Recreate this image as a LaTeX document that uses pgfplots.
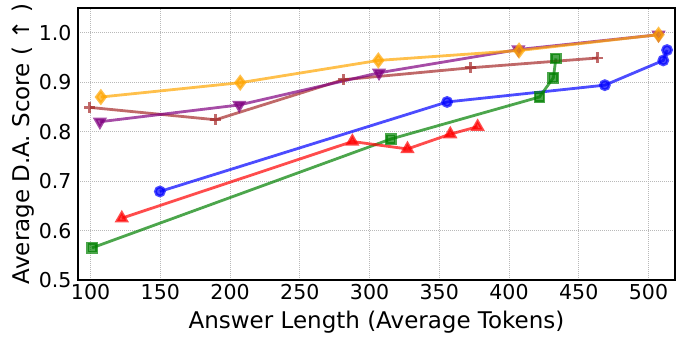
\documentclass[border=0pt]{standalone}
\usepackage{pgfplots}
\pgfplotsset{compat=1.18}
\usepackage{fontspec}
\setmainfont{DejaVu Sans}

\pgfplotsset{
  series/.style={line width=2.8pt, opacity=0.7, mark options={solid}},
}

\begin{document}
\begin{tikzpicture}
\path[use as bounding box] (0,0) rectangle (685pt,343pt);
\begin{axis}[
  at={(78pt,63pt)}, anchor=south west,
  scale only axis, width=597pt, height=272pt,
  xmin=91, xmax=519, ymin=0.5, ymax=1.05,
  xtick={100,150,...,500},
  ytick={0.5,0.6,...,1.0},
  yticklabel style={/pgf/number format/fixed, /pgf/number format/precision=1, /pgf/number format/fixed zerofill},
  /pgf/number format/assume math mode=true,
  ticklabel style={font=\fontsize{20.5}{20.5}\selectfont},
  label style={font=\fontsize{23}{23}\selectfont},
  xlabel={Answer Length (Average Tokens)},
  ylabel={Average D.A. Score ( ↑ )},
  major tick length=0pt,
  xticklabel shift=1pt, yticklabel shift=3pt,
  xlabel style={yshift=-4pt},
  ylabel style={yshift=-2pt},
  axis line style={line width=2.6pt, black},
  grid=major,
  grid style={gray!55, line width=0.6pt, dash pattern=on 1pt off 1pt},
]
% blue
\addplot[series, blue, mark=*, mark size=4.5pt] coordinates {
  (149.7,0.679) (355.6,0.860) (468.7,0.894) (510.6,0.944) (513.3,0.965)
};
% green
\addplot[series, green!50!black, mark=square*, mark size=4.5pt] coordinates {
  (101.1,0.565) (315.2,0.785) (421.8,0.870) (431.8,0.909) (433.6,0.948)
};
% red
\addplot[series, red, mark=triangle*, mark size=5.5pt] coordinates {
  (122.4,0.625) (287.7,0.780) (327.2,0.765) (357.9,0.795) (377.5,0.810)
};
% brown
\addplot[series, color={rgb,255:red,165;green,42;blue,42}, mark=+, mark size=5.5pt, mark options={line width=2.8pt}] coordinates {
  (99.5,0.849) (189.7,0.824) (281.2,0.905) (372.1,0.929) (463.7,0.949)
};
% purple
\addplot[series, color={rgb,255:red,128;green,0;blue,128}, mark=triangle*, mark size=5.5pt, mark options={rotate=180}] coordinates {
  (106.7,0.820) (206.6,0.854) (306.8,0.919) (406.7,0.966) (507.2,0.996)
};
% orange
\addplot[series, color={rgb,255:red,255;green,165;blue,0}, mark=diamond*, mark size=6pt] coordinates {
  (107.4,0.870) (207.3,0.899) (306.3,0.944) (407.2,0.964) (507.2,0.996)
};
\end{axis}
\end{tikzpicture}
\end{document}
